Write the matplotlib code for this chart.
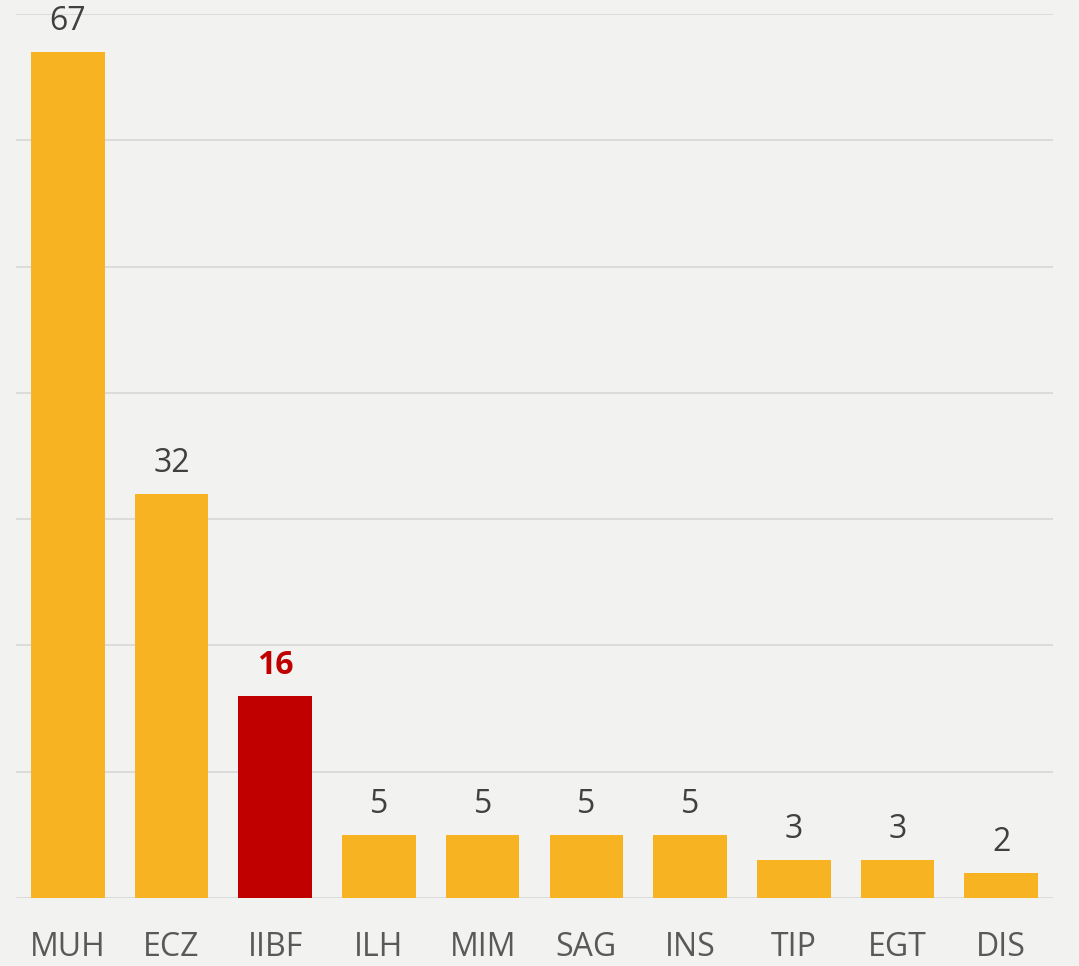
import matplotlib.pyplot as plt

categories = ["MUH", "ECZ", "IIBF", "ILH", "MIM", "SAG", "INS", "TIP", "EGT", "DIS"]
values = [67, 32, 16, 5, 5, 5, 5, 3, 3, 2]
highlight = "IIBF"

orange = "#F7B322"
red = "#C00000"
bg = "#F2F2F0"
text_col = "#404040"
tick_col = "#595959"

plt.rcParams['font.family'] = ['Open Sans', 'DejaVu Sans']

fig = plt.figure(figsize=(10.79, 9.66), dpi=100, facecolor=bg)
ax = fig.add_axes([16 / 1079, 68 / 966, (1053 - 16) / 1079, (898 - 14) / 966])
ax.set_facecolor(bg)

colors = [red if c == highlight else orange for c in categories]
x = range(len(categories))
bars = ax.bar(x, values, width=0.71, color=colors, zorder=3)

for xi, v, c in zip(x, values, categories):
    if c == highlight:
        ax.text(xi, v + 1.7, str(v), ha="center", va="baseline", fontsize=23,
                color=red, fontweight="bold")
    else:
        ax.text(xi, v + 1.75, str(v), ha="center", va="baseline", fontsize=23,
                color=text_col)

ax.set_xlim(-0.5, 9.5)
ax.set_ylim(0, 70)
ax.set_yticks(range(0, 71, 10))
ax.yaxis.grid(True, color="#D9D9D9", linewidth=1.3, zorder=0)
ax.tick_params(axis="y", left=False, labelleft=False)
ax.set_xticks(list(x))
ax.set_xticklabels(categories, fontsize=23, color=tick_col)
ax.tick_params(axis="x", length=0, pad=24)
for s in ax.spines.values():
    s.set_visible(False)

fig.savefig("out.png", dpi=100, facecolor=bg)
